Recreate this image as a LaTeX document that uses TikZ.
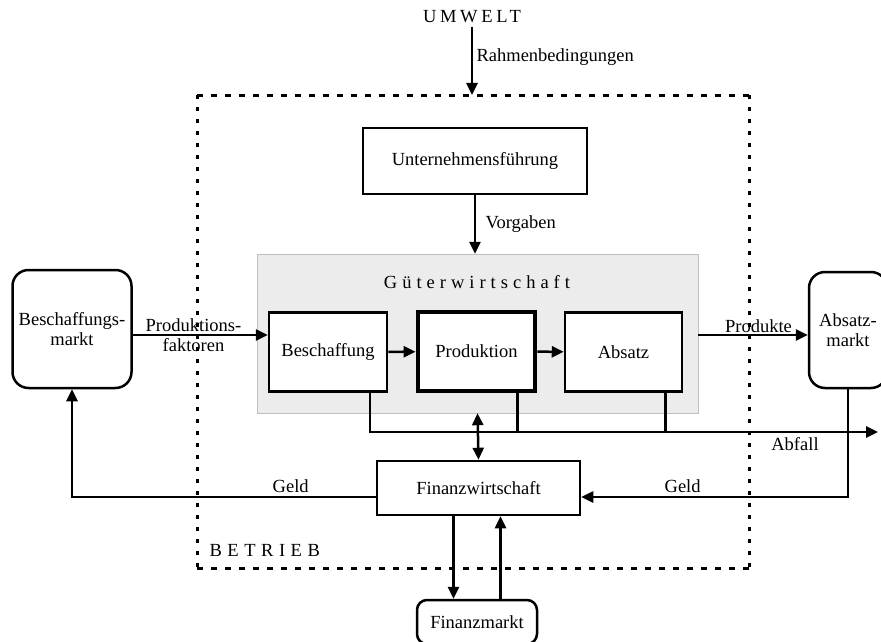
\documentclass[tikz,border=0pt]{standalone}
\usepackage{fontspec}
\setmainfont{Liberation Serif}
\usetikzlibrary{arrows.meta,positioning,calc}
\definecolor{paleshade}{RGB}{236,236,236}
\definecolor{shadeline}{RGB}{190,190,190}

\begin{document}
\begin{tikzpicture}[x=1pt,y=-1pt,font=\fontsize{18.5}{20}\selectfont,box/.style={draw,line width=2.5pt,fill=white,inner sep=2pt,align=center},market/.style={box,rounded corners=16pt},arr/.style={-{Triangle[length=12pt,width=11pt]},line width=2.5pt},wire/.style={line width=2.5pt},spaced/.style={font=\fontsize{18.5}{20}\selectfont\addfontfeatures{LetterSpace=#1}},frame/.style={line width=3pt,dash pattern=on #1 off 8pt}]
\useasboundingbox (0,0) rectangle (881,642); \clip (0,0) rectangle (881,642);
\node[spaced=20] (umwelt) at (472,17) {UMWELT}; \coordinate (rand) at (472,95);
\draw[frame=6pt] (197,95) -- (749,95) (197,568) -- (749,568);
\draw[frame=4pt] (197,95) -- (197,568) (749,95) -- (749,568);
\node[spaced=30,anchor=west] (betrieb) at (206,550) {BETRIEB};
\node[box,minimum width=224pt,minimum height=66pt] (fuehrung) at (475,161) {Unternehmensführung};
\node[draw=shadeline,fill=paleshade,minimum width=441pt,minimum height=159pt] (gueter) at (477.5,333.5) {};
\node[spaced=27] (gtitel) at (477,282) {Güterwirtschaft};
\node[box,minimum width=118pt,minimum height=79pt] (beschaffung) at (328,352) {Beschaffung};
\node[box,line width=4.8pt,minimum width=117pt,minimum height=79pt] (produktion) at (476.5,351.5) {Produktion};
\node[box,minimum width=117pt,minimum height=79pt] (absatz) at (623.5,352) {Absatz};
\node[market,minimum width=119pt,minimum height=118pt] (bmarkt) at (72,329) {Beschaffungs-\\markt};
\node[market,minimum width=78pt,minimum height=116pt] (amarkt) at (848,330) {Absatz-\\markt};
\node[box,minimum width=203pt,minimum height=54pt] (finanz) at (478.5,488) {Finanzwirtschaft};
\node[market,rounded corners=10pt,minimum width=120pt,minimum height=44pt] (fmarkt) at (477,622) {Finanzmarkt};
\coordinate (abfall) at (878,432);
\draw[arr] (umwelt) -- node[right,pos=0.45] {Rahmenbedingungen} (rand);
\draw[arr] (fuehrung) -- node[right=6pt] {Vorgaben} (fuehrung |- gueter.north);
\draw[arr] ([yshift=-6pt]bmarkt.east) coordinate (pf) -- node[pos=0.45,align=center] {Produktions-\\faktoren} (pf -| beschaffung.west);
\draw[arr] (beschaffung) -- (produktion); \draw[arr] (produktion) -- (absatz);
\draw[arr] (gueter.east |- pf) -- node[above,pos=0.55,inner sep=1pt] {Produkte} (pf -| amarkt.west);
\draw[arr] ([xshift=42pt]beschaffung.south) |- (abfall);
\draw[wire] ([xshift=41pt]produktion.south) -- ([xshift=41pt]produktion.south |- abfall);
\draw[wire] ([xshift=42pt]absatz.south) -- ([xshift=42pt]absatz.south |- abfall);
\node (abfalltext) at (795,444) {Abfall};
\draw[arr,{Triangle[length=12pt,width=11pt]}-{Triangle[length=12pt,width=11pt]}] (gueter.south) -- (finanz.north);
\draw[arr] ([yshift=-9pt]finanz.west) -| node[above,pos=0.14] {Geld} (bmarkt.south);
\draw[arr] (amarkt.south) |- node[above,pos=0.81] {Geld} ([yshift=-9pt]finanz.east);
\draw[arr] ([xshift=-25pt]finanz.south) -- ([xshift=-25pt]finanz.south |- fmarkt.north);
\draw[arr] ([xshift=22pt]finanz.south |- fmarkt.north) -- ([xshift=22pt]finanz.south);
\end{tikzpicture}
\end{document}
